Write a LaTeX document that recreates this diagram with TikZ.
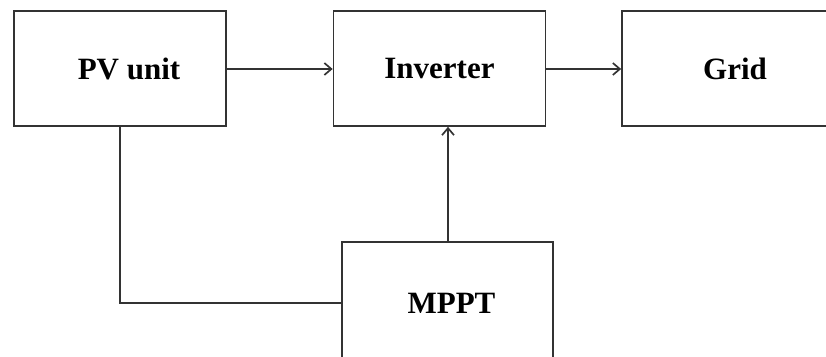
\documentclass[tikz,border=0pt]{standalone}
\usepackage{fontspec}
\setmainfont{Liberation Serif}
\usetikzlibrary{arrows.meta}
\tikzset{
  box/.style={draw=black!80, line width=1.7pt, fill=white, rectangle, inner sep=0pt,
    font=\fontsize{31}{36}\selectfont\bfseries},
  conn/.style={draw=black!80, line width=1.7pt},
  arr/.style={conn, -{Straight Barb[length=7pt,width=12pt,line width=1.7pt]}}
}
\begin{document}
\begin{tikzpicture}[x=1pt,y=-1pt]
\useasboundingbox (0,0) rectangle (826,356);
\fill[white] (0,0) rectangle (826,356);
\clip (0,0) rectangle (826,356);
\node[box, minimum width=212pt, minimum height=115pt] (pv) at (120,68.5) {\raisebox{-4pt}{\hspace{18pt}PV unit}};
\node[box, minimum width=212pt, minimum height=115pt] (inv) at (439.5,68.5) {\raisebox{-4pt}{Inverter}};
\node[box, minimum width=226pt, minimum height=115pt] (grid) at (735,68.5) {\raisebox{-4pt}{Grid}};
\node[box, minimum width=211pt, minimum height=122pt] (mppt) at (447.5,303) {\raisebox{-2pt}{\hspace{8pt}MPPT}};
\coordinate (corner) at (pv.south |- mppt.west);
\draw[arr] (pv.east |- 0,69) -- (inv.west |- 0,69);
\draw[arr] (inv.east |- 0,69) -- (grid.west |- 0,69);
\draw[arr] (mppt.north -| 448,0) -- (inv.south -| 448,0);
\draw[conn] (pv.south) -- (corner) -- (mppt.west);
\end{tikzpicture}
\end{document}
